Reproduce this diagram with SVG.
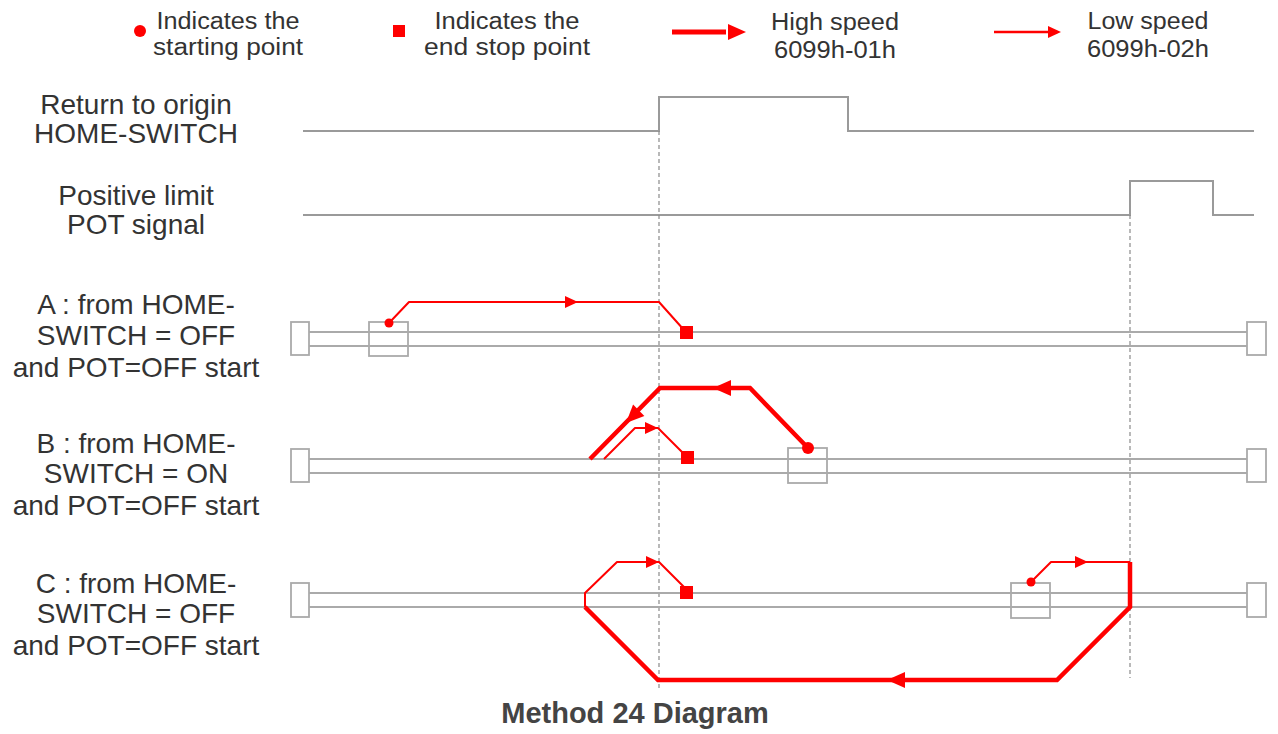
<svg xmlns="http://www.w3.org/2000/svg" xmlns:xlink="http://www.w3.org/1999/xlink" width="1278" height="734" viewBox="0 0 1278 734">
<style>
text{font-family:"Liberation Sans",Arial,sans-serif;fill:#333;}
.lbl{font-size:28px;text-anchor:middle;}
.leg{font-size:23px;text-anchor:middle;}
.title{font-size:29px;font-weight:bold;text-anchor:middle;fill:#444;}
.sig{fill:none;stroke:#9a9a9a;stroke-width:2;}
.dash{fill:none;stroke:#8a8a8a;stroke-width:1.2;stroke-dasharray:4,3;}
.trk{fill:none;stroke:#aaa;stroke-width:2;}
.box{fill:none;stroke:#aaa;stroke-width:1.8;}
.thin{fill:none;stroke:#ff0000;stroke-width:2;stroke-linejoin:round;}
.thick{fill:none;stroke:#ff0000;stroke-width:4.5;stroke-linejoin:miter;}
.red{fill:#ff0000;}
</style>
<defs>
<path id="ahThin" d="M0,0 L-13,-6 L-13,6 Z" fill="#ff0000"/>
<path id="ahThick" d="M0,0 L-18,-8 L-18,8 Z" fill="#ff0000"/>
</defs>
<rect width="1278" height="734" fill="#fff"/>

<g id="legend">
<circle class="red" cx="140" cy="31" r="6"/>
<text class="leg" x="228" y="29" textLength="143" lengthAdjust="spacingAndGlyphs">Indicates the</text>
<text class="leg" x="228" y="55" textLength="150" lengthAdjust="spacingAndGlyphs">starting point</text>
<rect class="red" x="393" y="25" width="12" height="12"/>
<text class="leg" x="507" y="29" textLength="145" lengthAdjust="spacingAndGlyphs">Indicates the</text>
<text class="leg" x="507" y="55" textLength="166" lengthAdjust="spacingAndGlyphs">end stop point</text>
<line x1="672" y1="32" x2="726" y2="32" stroke="#ff0000" stroke-width="5"/>
<use xlink:href="#ahThick" transform="translate(746,32)"/>
<text class="leg" x="835" y="30" textLength="128" lengthAdjust="spacingAndGlyphs">High speed</text>
<text class="leg" x="835" y="58" textLength="122" lengthAdjust="spacingAndGlyphs">6099h-01h</text>
<line x1="994" y1="32" x2="1048" y2="32" stroke="#ff0000" stroke-width="2.5"/>
<use xlink:href="#ahThin" transform="translate(1061,32)"/>
<text class="leg" x="1148" y="29" textLength="121" lengthAdjust="spacingAndGlyphs">Low speed</text>
<text class="leg" x="1148" y="57" textLength="122" lengthAdjust="spacingAndGlyphs">6099h-02h</text>
</g>

<g id="signal-home">
<text class="lbl" x="136" y="114">Return to origin</text>
<text class="lbl" x="136" y="143">HOME-SWITCH</text>
<polyline class="sig" points="303,131 659,131 659,97 848,97 848,131 1254,131"/>
</g>

<g id="signal-pot">
<text class="lbl" x="136" y="205">Positive limit</text>
<text class="lbl" x="136" y="234">POT signal</text>
<polyline class="sig" points="303,215 1130,215 1130,181 1213,181 1213,215 1254,215"/>
</g>

<g id="guides">
<line class="dash" x1="659" y1="131" x2="659" y2="690"/>
<line class="dash" x1="1130" y1="215" x2="1130" y2="678"/>
</g>

<g id="track-a">
<text class="lbl" x="136" y="314">A : from HOME-</text>
<text class="lbl" x="136" y="345">SWITCH = OFF</text>
<text class="lbl" x="136" y="377">and POT=OFF start</text>
<line class="trk" x1="309" y1="332" x2="1247" y2="332"/>
<line class="trk" x1="309" y1="346" x2="1247" y2="346"/>
<rect class="box" x="291" y="322" width="18" height="33"/>
<rect class="box" x="1247" y="322" width="19" height="33"/>
<rect class="box" x="369" y="322" width="39" height="34"/>
</g>

<g id="track-b">
<text class="lbl" x="136" y="453">B : from HOME-</text>
<text class="lbl" x="136" y="483">SWITCH = ON</text>
<text class="lbl" x="136" y="515">and POT=OFF start</text>
<line class="trk" x1="309" y1="459" x2="1247" y2="459"/>
<line class="trk" x1="309" y1="473" x2="1247" y2="473"/>
<rect class="box" x="291" y="449" width="18" height="33"/>
<rect class="box" x="1247" y="449" width="19" height="33"/>
<rect class="box" x="788" y="448" width="39" height="35"/>
</g>

<g id="track-c">
<text class="lbl" x="136" y="593">C : from HOME-</text>
<text class="lbl" x="136" y="623">SWITCH = OFF</text>
<text class="lbl" x="136" y="655">and POT=OFF start</text>
<line class="trk" x1="309" y1="593" x2="1247" y2="593"/>
<line class="trk" x1="309" y1="607" x2="1247" y2="607"/>
<rect class="box" x="291" y="583" width="18" height="34"/>
<rect class="box" x="1247" y="583" width="19" height="34"/>
<rect class="box" x="1011" y="583" width="39" height="35"/>
</g>

<g id="connectors">
<!-- A -->
<polyline class="thin" points="389,323 409,302 659,302 684,330"/>
<use xlink:href="#ahThin" transform="translate(578,302)"/>
<circle class="red" cx="389" cy="323" r="4.5"/>
<rect class="red" x="680" y="326" width="13" height="13"/>
<!-- B -->
<polyline class="thick" points="808,448 750,388 660,388 590,459"/>
<use xlink:href="#ahThick" transform="translate(713,388) rotate(180)"/>
<use xlink:href="#ahThick" transform="translate(626,423) rotate(135)"/>
<polyline class="thin" points="604,459 635,428 658,428 684,454"/>
<use xlink:href="#ahThin" transform="translate(658,428)"/>
<circle class="red" cx="808" cy="448" r="6"/>
<rect class="red" x="681" y="451" width="13" height="13"/>
<!-- C -->
<polyline class="thin" points="1031,582 1051,562 1130,562"/>
<use xlink:href="#ahThin" transform="translate(1088,562)"/>
<polyline class="thick" points="1130,562 1130,607 1057,680 658,680 585,607"/>
<use xlink:href="#ahThick" transform="translate(887,680) rotate(180)"/>
<polyline class="thin" points="585,607 585,593 617,562 659,562 684,587"/>
<use xlink:href="#ahThin" transform="translate(659,562)"/>
<circle class="red" cx="1031" cy="582" r="4.5"/>
<rect class="red" x="680" y="586" width="13" height="13"/>
</g>

<g id="caption">
<text class="title" x="635" y="723">Method 24 Diagram</text>
</g>
</svg>
